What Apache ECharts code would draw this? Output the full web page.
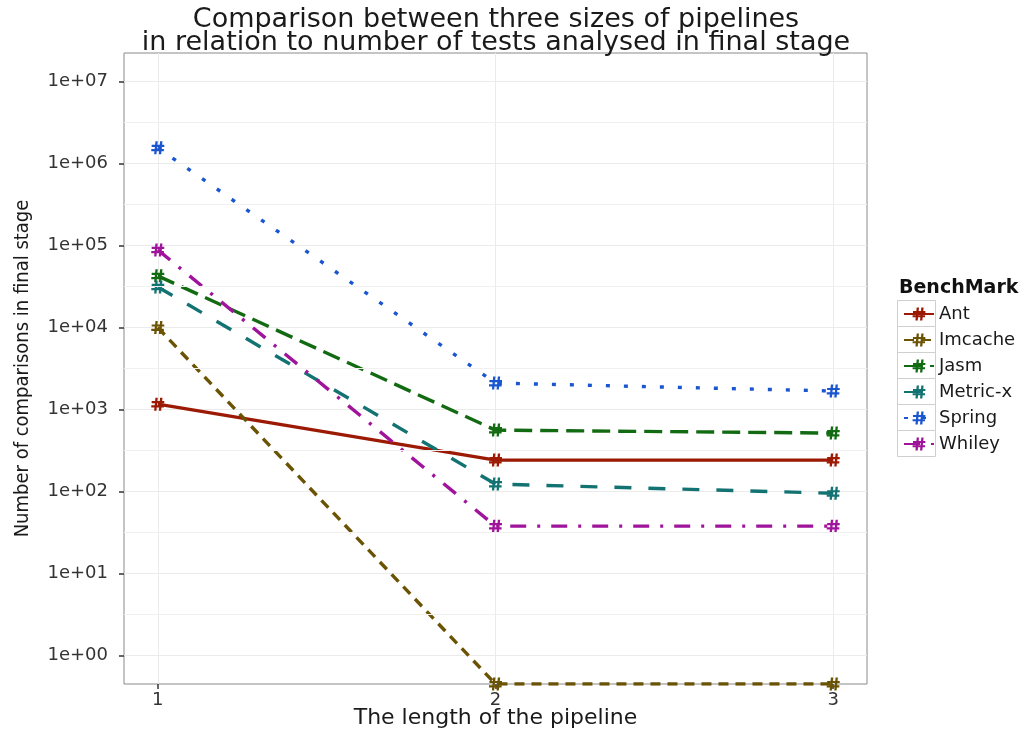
<!DOCTYPE html>
<html>
<head>
<meta charset="utf-8">
<script src="https://cdn.jsdelivr.net/npm/echarts@6/dist/echarts.min.js"></script>
<style>
html,body{margin:0;padding:0;background:#fff;overflow:hidden;}
#chart{width:1033px;height:731px;}
</style>
</head>
<body>
<div id="chart"></div>
<script>
// ---- data ----
const pipelineLengths = [1, 2, 3];
const seriesNames = ['Ant', 'Imcache', 'Jasm', 'Metric-x', 'Spring', 'Whiley'];
const ant     = [1160, 241, 241];
const imcache = [10000, 0, 0];          // 0 -> log(-Inf), drawn at the panel edge
const jasm    = [42700, 560, 515];
const metricx = [31300, 123, 95];
const spring  = [1560000, 2100, 1680];
const whiley  = [88500, 37.7, 37.7];
const yTickValues = [1e0, 1e1, 1e2, 1e3, 1e4, 1e5, 1e6, 1e7];
const yTickLabels = ['1e+00', '1e+01', '1e+02', '1e+03', '1e+04', '1e+05', '1e+06', '1e+07'];
const xTickValues = [1, 2, 3];
const xTickLabels = ['1', '2', '3'];
const yMinorGrid = [Math.pow(10,0.5), Math.pow(10,1.5), Math.pow(10,2.5), Math.pow(10,3.5), Math.pow(10,4.5), Math.pow(10,5.5), Math.pow(10,6.5)];

const Y_MIN = Math.pow(10, -0.35);
const Y_MAX = Math.pow(10, 7.35);

const values = [ant, imcache, jasm, metricx, spring, whiley];
const colors = ['#9c1a04', '#6b5304', '#126b12', '#137272', '#1a56cf', '#a0149c'];
const dashes = ['solid', [10, 7], [18, 8], [17, 17], [4, 14], [16, 11, 3, 11]];

const hashSymbol = 'path://M3.2,0 L5,0 L4,10 L2.2,10 Z M6.8,0 L8.6,0 L7.6,10 L5.8,10 Z M0.3,2.6 L10,2.6 L10,4.3 L0.3,4.3 Z M0,5.9 L9.7,5.9 L9.7,7.6 L0,7.6 Z';

const FONT = 'DejaVu Sans';

const series = seriesNames.map((name, i) => ({
  name: name,
  type: 'line',
  data: pipelineLengths.map((x, j) => [x, values[i][j] > 0 ? values[i][j] : Y_MIN]),
  symbol: hashSymbol,
  symbolSize: 13,
  showSymbol: true,
  color: colors[i],
  itemStyle: { color: colors[i] },
  lineStyle: { color: colors[i], width: 3.4, type: dashes[i], cap: 'butt' },
  emphasis: { disabled: true },
  animation: false,
  z: 3
}));

// helper series for minor horizontal grid lines
series.push({
  name: '_minor',
  type: 'line',
  data: [],
  silent: true,
  z: 1,
  markLine: {
    silent: true,
    symbol: 'none',
    label: { show: false },
    lineStyle: { color: '#f0f0f0', type: 'solid', width: 1 },
    animation: false,
    data: yMinorGrid.map(v => ({ yAxis: v }))
  }
});

const chart = echarts.init(document.getElementById('chart'), null, { renderer: 'canvas' });
chart.setOption({
  backgroundColor: '#ffffff',
  animation: false,
  title: [
    {
      text: 'Comparison between three sizes of pipelines\nin relation to number of tests analysed in final stage',
      left: 496,
      top: 8,
      textAlign: 'center',
      padding: 0,
      textStyle: { fontFamily: FONT, fontSize: 27, fontWeight: 'normal', color: '#1a1a1a', lineHeight: 23 }
    },
    {
      text: 'BenchMark',
      left: 899,
      top: 279,
      padding: 0,
      textStyle: { fontFamily: FONT, fontSize: 19, fontWeight: 'bold', color: '#111' }
    }
  ],
  grid: {
    left: 124, right: 166, top: 53, bottom: 47,
    outerBoundsMode: 'none',
    containLabel: false,
    show: true, borderColor: '#8a8a8a', borderWidth: 1, backgroundColor: 'transparent'
  },
  legend: {
    data: seriesNames,
    orient: 'vertical',
    left: 903,
    top: 305,
    itemWidth: 30,
    itemHeight: 16,
    itemGap: 8,
    padding: 0,
    textStyle: { fontFamily: FONT, fontSize: 18, color: '#1a1a1a', lineHeight: 16 },
    selectedMode: false
  },
  graphic: seriesNames.map((n, i) => ({
    type: 'rect',
    z: 0,
    silent: true,
    shape: { x: 897.5, y: 300.5 + 26 * i, width: 38, height: 26 },
    style: { fill: '#fff', stroke: '#cfcfcf', lineWidth: 1 }
  })),
  xAxis: {
    type: 'value',
    min: 0.9,
    max: 3.1,
    name: 'The length of the pipeline',
    nameLocation: 'middle',
    nameGap: 23,
    nameMoveOverlap: false,
    nameTextStyle: { fontFamily: FONT, fontSize: 22, color: '#1a1a1a' },
    axisLine: { show: false },
    axisTick: { show: true, customValues: xTickValues, length: 5, lineStyle: { color: '#333', width: 1.5 } },
    axisLabel: {
      customValues: xTickValues,
      fontFamily: FONT, fontSize: 18, color: '#333', margin: 7,
      formatter: v => xTickLabels[xTickValues.indexOf(Math.round(v))] || ''
    },
    splitLine: { show: true, lineStyle: { color: '#ebebeb', width: 1 } }
  },
  yAxis: {
    type: 'log',
    logBase: 10,
    min: Y_MIN,
    max: Y_MAX,
    name: 'Number of comparisons in final stage',
    nameLocation: 'middle',
    nameRotate: 90,
    nameGap: 91,
    nameMoveOverlap: false,
    nameTextStyle: { fontFamily: 'DejaVu Sans Condensed', fontSize: 20, color: '#1a1a1a' },
    axisLine: { show: false },
    axisTick: { show: true, customValues: yTickValues, length: 5, lineStyle: { color: '#333', width: 1.5 } },
    axisLabel: {
      customValues: yTickValues,
      fontFamily: FONT, fontSize: 18, color: '#333', margin: 16,
      formatter: v => {
        const e = Math.round(Math.log10(v));
        return Math.abs(Math.log10(v) - e) < 1e-6 ? (yTickLabels[e] || '') : '';
      }
    },
    splitLine: { show: true, lineStyle: { color: '#ebebeb', width: 1 } }
  },
  series: series
});
</script>
</body>
</html>
